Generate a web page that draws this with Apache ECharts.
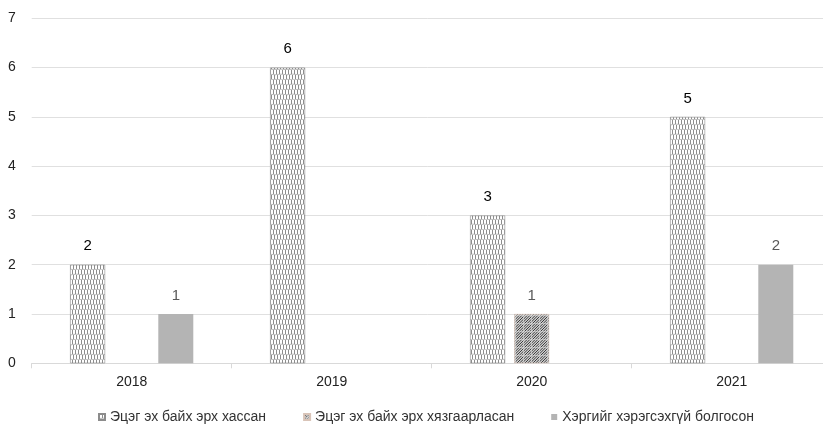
<!DOCTYPE html>
<html>
<head>
<meta charset="utf-8">
<script src="https://cdn.jsdelivr.net/npm/echarts@6/dist/echarts.min.js"></script>
<style>html,body{margin:0;padding:0;background:#fff}#c{width:823px;height:424px}</style>
</head>
<body>
<div id="c"></div>
<script>
const categories = ['2018', '2019', '2020', '2021'];
const seriesNames = ['Эцэг эх байх эрх хассан', 'Эцэг эх байх эрх хязгаарласан', 'Хэргийг хэрэгсэхгүй болгосон'];
const revoked = [2, 6, 3, 5];
const restricted = [0, 0, 1, 0];
const dismissed = [1, 0, 0, 2];
const yTicks = [0, 1, 2, 3, 4, 5, 6, 7];

function patternBrick() {
  const c = document.createElement('canvas');
  c.width = 12; c.height = 10;
  const x = c.getContext('2d');
  x.fillStyle = '#fff'; x.fillRect(0, 0, 12, 10);
  x.strokeStyle = '#707070'; x.lineWidth = 0.8;
  x.beginPath();
  for (let i = 0; i < 12; i += 3) { x.moveTo(i + 0.5, 0); x.lineTo(i + 0.5, 4); }
  for (let i = 1; i < 12; i += 3) { x.moveTo(i + 0.5, 5); x.lineTo(i + 0.5, 9); }
  x.stroke();
  x.strokeStyle = '#9a9a9a'; x.lineWidth = 0.7;
  x.beginPath();
  x.moveTo(0, 4.5); x.lineTo(5, 4.2); x.lineTo(12, 4.8);
  x.moveTo(0, 9.5); x.lineTo(6, 9.8); x.lineTo(12, 9.3);
  x.stroke();
  return c;
}
function patternHatch() {
  const c = document.createElement('canvas');
  c.width = 8; c.height = 8;
  const x = c.getContext('2d');
  x.fillStyle = '#cfcfcf'; x.fillRect(0, 0, 8, 8);
  x.strokeStyle = '#3a3a3a'; x.lineWidth = 1;
  x.beginPath();
  for (let k = -8; k <= 16; k += 2.67) { x.moveTo(k, 8); x.lineTo(k + 8, 0); }
  x.stroke();
  x.fillStyle = 'rgba(225,225,225,0.55)';
  x.fillRect(3, 0, 1, 8); x.fillRect(0, 3, 8, 1);
  return c;
}

const labelFmt = p => String(p.value);
const toBars = arr => arr.map(v => (v === 0 ? '-' : v));
const font = '"Liberation Sans", Arial, sans-serif';

const chart = echarts.init(document.getElementById('c'));
chart.setOption({
  animation: false,
  textStyle: { fontFamily: font },
  grid: { left: 31.7, width: 800, top: 18.3, bottom: 60.7, containLabel: false, outerBoundsMode: 'none' },
  legend: {
    top: 405, left: 93,
    icon: 'rect',
    itemWidth: 6, itemHeight: 6, itemGap: 37,
    textStyle: { fontSize: 14, color: '#333', fontFamily: font },
    data: seriesNames
  },
  xAxis: {
    type: 'category', data: categories,
    axisLine: { lineStyle: { color: '#d9d9d9', width: 1 } },
    axisTick: { show: true, length: 5, lineStyle: { color: '#d9d9d9' } },
    axisLabel: { fontSize: 14, color: '#222', margin: 12 }
  },
  yAxis: {
    type: 'value', min: yTicks[0], max: yTicks[yTicks.length - 1], interval: 1,
    axisLine: { show: false }, axisTick: { show: false },
    axisLabel: { fontSize: 14, color: '#222', margin: 16 },
    splitLine: { lineStyle: { color: '#e0e0e0', width: 1 } }
  },
  series: [
    {
      name: seriesNames[0], type: 'bar', data: toBars(revoked), barWidth: 35, barGap: '26%',
      itemStyle: { color: { image: patternBrick(), repeat: 'repeat' }, borderColor: '#8c8c8c', borderWidth: 0.6 },
      label: { show: true, position: 'top', distance: 11, fontSize: 15, color: '#000', formatter: labelFmt }
    },
    {
      name: seriesNames[1], type: 'bar', data: toBars(restricted), barWidth: 35, barGap: '26%',
      itemStyle: { color: { image: patternHatch(), repeat: 'repeat' }, borderColor: '#d9c4b8', borderWidth: 0.6 },
      label: { show: true, position: 'top', distance: 11, fontSize: 15, color: '#595959', formatter: labelFmt }
    },
    {
      name: seriesNames[2], type: 'bar', data: toBars(dismissed), barWidth: 35, barGap: '26%',
      itemStyle: { color: '#b4b4b4' },
      label: { show: true, position: 'top', distance: 11, fontSize: 15, color: '#595959', formatter: labelFmt }
    }
  ]
});
</script>
</body>
</html>
